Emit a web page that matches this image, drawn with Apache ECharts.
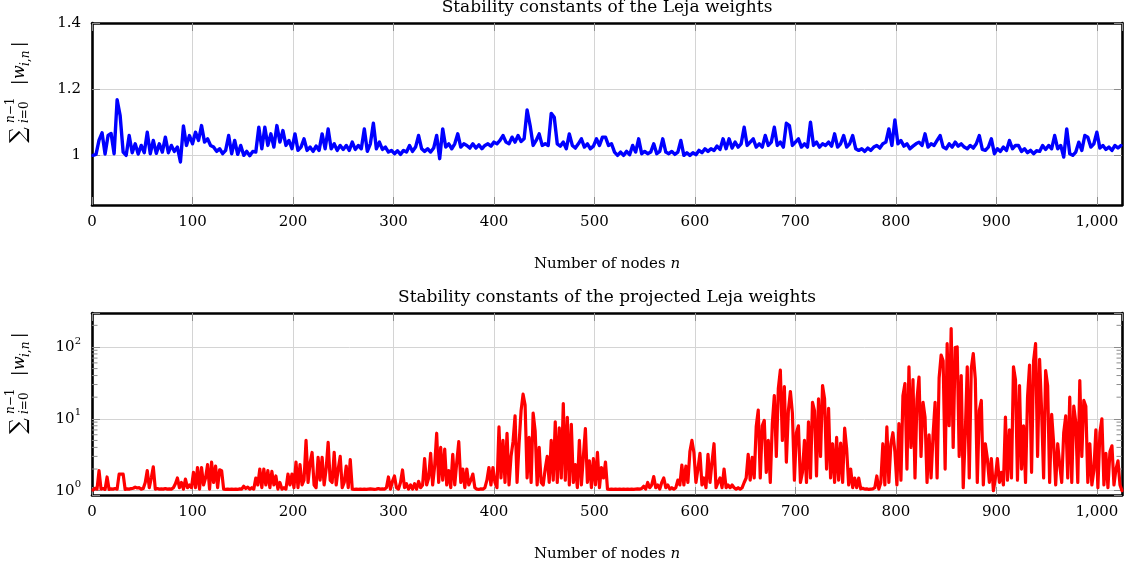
<!DOCTYPE html>
<html>
<head>
<meta charset="utf-8">
<script src="https://cdn.jsdelivr.net/npm/echarts@6/dist/echarts.min.js"></script>
<style>
  html, body { margin: 0; padding: 0; background: #fff; }
  #main { width: 1125px; height: 570px; }
</style>
</head>
<body>
<div id="main"></div>
<script>
// node spacing of the stored samples (n = 1, 1 + step, ...)
var blueStep = 3;
var redStep = 2;
var nodeMax = 1025;

// stability constants of the Leja weights, n = 1, 4, 7, ..., 1024
var lejaWeights = [
  1.0, 1.003, 1.046, 1.068, 1.004, 1.06, 1.066, 1.005, 1.168, 1.12,
  1.01, 1.0, 1.06, 1.008, 1.035, 1.004, 1.03, 1.008, 1.07, 1.005,
  1.045, 1.006, 1.035, 1.01, 1.055, 1.008, 1.03, 1.012, 1.025, 0.98,
  1.089, 1.03, 1.06, 1.035, 1.07, 1.045, 1.09, 1.04, 1.05, 1.03,
  1.025, 1.012, 1.02, 1.005, 1.015, 1.06, 1.005, 1.045, 1.003, 1.03,
  1.0, 1.012, 0.999, 1.012, 1.01, 1.085, 1.02, 1.085, 1.03, 1.065,
  1.025, 1.09, 1.04, 1.075, 1.03, 1.045, 1.02, 1.065, 1.015, 1.025,
  1.05, 1.015, 1.025, 1.012, 1.028, 1.015, 1.065, 1.02, 1.08, 1.02,
  1.035, 1.015, 1.03, 1.018, 1.03, 1.015, 1.04, 1.018, 1.03, 1.02,
  1.08, 1.012, 1.035, 1.097, 1.02, 1.04, 1.018, 1.025, 1.01, 1.015,
  1.005, 1.014, 1.003, 1.015, 1.01, 1.03, 1.012, 1.025, 1.06, 1.02,
  1.012, 1.02, 1.01, 1.022, 1.06, 0.99, 1.08, 1.025, 1.035, 1.02,
  1.035, 1.065, 1.025, 1.035, 1.03, 1.022, 1.035, 1.022, 1.032, 1.02,
  1.03, 1.035, 1.028, 1.04, 1.035, 1.045, 1.06, 1.04, 1.035, 1.055,
  1.04, 1.06, 1.042, 1.05, 1.137, 1.09, 1.03, 1.045, 1.065, 1.03,
  1.035, 1.03, 1.127, 1.115, 1.035, 1.028, 1.04, 1.02, 1.065, 1.03,
  1.022, 1.035, 1.05, 1.025, 1.035, 1.02, 1.028, 1.05, 1.03, 1.055,
  1.055, 1.03, 1.035, 1.01, 1.0, 1.01, 1.0, 1.012, 1.002, 1.03,
  1.01, 1.05, 1.005, 1.012, 1.005, 1.01, 1.035, 1.005, 1.012, 1.05,
  1.01, 1.005, 1.012, 1.003, 1.01, 1.045, 1.0, 1.008, 1.0, 1.008,
  1.002, 1.015, 1.008, 1.02, 1.012, 1.02, 1.015, 1.028, 1.018, 1.05,
  1.02, 1.05, 1.022, 1.04, 1.025, 1.035, 1.085, 1.03, 1.04, 1.05,
  1.025, 1.035, 1.025, 1.06, 1.03, 1.04, 1.085, 1.03, 1.04, 1.025,
  1.097, 1.09, 1.03, 1.04, 1.05, 1.025, 1.035, 1.025, 1.10, 1.03,
  1.04, 1.025, 1.035, 1.03, 1.04, 1.028, 1.065, 1.025, 1.035, 1.06,
  1.025, 1.035, 1.06, 1.02, 1.015, 1.02, 1.012, 1.022, 1.015, 1.025,
  1.03, 1.022, 1.035, 1.04, 1.08, 1.03, 1.107, 1.035, 1.045, 1.028,
  1.035, 1.02, 1.028, 1.035, 1.04, 1.03, 1.065, 1.025, 1.035, 1.03,
  1.045, 1.06, 1.025, 1.02, 1.035, 1.025, 1.04, 1.028, 1.035, 1.025,
  1.02, 1.03, 1.022, 1.035, 1.06, 1.018, 1.015, 1.025, 1.05, 1.005,
  1.02, 1.012, 1.025, 1.015, 1.045, 1.02, 1.03, 1.03, 1.012, 1.02,
  1.008, 1.015, 1.005, 1.014, 1.012, 1.03, 1.018, 1.03, 1.02, 1.06,
  1.02, 1.03, 0.995, 1.08, 1.005, 1.0, 1.01, 1.04, 1.015, 1.06,
  1.055, 1.025, 1.035, 1.07, 1.022, 1.03, 1.018, 1.025, 1.015, 1.03, 1.022, 1.03
];

// stability constants of the projected Leja weights, n = 1, 3, 5, ..., 1025
var projectedWeights = [
  1.02, 1.08, 1.05, 1.9, 1.05, 1.07, 1.04, 1.55, 1.04, 1.06,
  1.05, 1.07, 1.05, 1.7, 1.7, 1.7, 1.04, 1.06, 1.05, 1.07,
  1.08, 1.12, 1.09, 1.1, 1.05, 1.07, 1.3, 1.9, 1.1, 1.5,
  2.15, 1.05, 1.07, 1.05, 1.06, 1.05, 1.07, 1.05, 1.06, 1.05,
  1.1, 1.25, 1.5, 1.1, 1.3, 1.05, 1.45, 1.1, 1.2, 1.1,
  1.8, 1.1, 2.1, 1.05, 2.1, 1.2, 1.5, 2.3, 1.05, 2.5,
  1.3, 2.2, 1.1, 1.95, 1.9, 1.05, 1.04, 1.05, 1.04, 1.05,
  1.04, 1.05, 1.04, 1.06, 1.05, 1.15, 1.07, 1.12, 1.05, 1.1,
  1.05, 1.5, 1.2, 2.0, 1.1, 2.0, 1.2, 1.9, 1.1, 1.85,
  1.2, 1.6, 1.05, 1.3, 1.05, 1.1, 1.05, 1.7, 1.2, 1.7,
  1.1, 2.5, 1.1, 2.3, 1.2, 1.4, 5.0, 1.3, 2.4, 3.4,
  1.2, 1.1, 2.9, 1.4, 2.9, 1.2, 2.0, 4.7, 1.4, 1.3,
  3.4, 1.2, 2.0, 3.0, 1.1, 1.3, 2.2, 1.1, 2.7, 1.05,
  1.04, 1.05, 1.04, 1.05, 1.04, 1.05, 1.04, 1.05, 1.06, 1.05,
  1.04, 1.05, 1.07, 1.05, 1.06, 1.05, 1.1, 1.55, 1.05, 1.35,
  1.6, 1.1, 1.05, 1.3, 1.94, 1.1, 1.25, 1.05, 1.2, 1.05,
  1.25, 1.05, 1.35, 1.1, 1.2, 2.8, 1.2, 1.5, 3.3, 1.2,
  2.2, 6.3, 1.3, 4.0, 1.4, 3.8, 1.2, 1.9, 1.1, 3.2,
  1.2, 2.5, 4.8, 1.3, 2.0, 1.1, 2.0, 1.2, 1.4, 1.7,
  1.1, 1.05, 1.04, 1.06, 1.05, 1.1, 1.4, 2.1, 1.2, 2.1,
  1.3, 1.1, 7.7, 1.5, 5.0, 1.3, 6.3, 1.2, 3.0, 4.8,
  11, 1.3, 4.5, 13, 22, 15.5, 1.5, 5.5, 1.3, 12,
  6.8, 1.2, 4.0, 1.3, 1.2, 2.0, 3.0, 1.3, 5.0, 1.4,
  9.1, 1.3, 7.5, 1.5, 16.3, 1.4, 10.5, 1.2, 8.4, 1.3,
  2.3, 1.1, 5.0, 1.2, 3.0, 7.3, 1.3, 2.6, 1.1, 2.8,
  1.2, 3.4, 1.1, 2.1, 1.5, 2.5, 1.05, 1.04, 1.05, 1.04,
  1.05, 1.04, 1.05, 1.04, 1.05, 1.04, 1.05, 1.04, 1.05, 1.04,
  1.05, 1.06, 1.05, 1.07, 1.15, 1.05, 1.3, 1.1, 1.2, 1.57,
  1.1, 1.2, 1.05, 1.3, 1.5, 1.1, 1.2, 1.05, 1.1, 1.05,
  1.1, 1.4, 1.2, 2.27, 1.2, 2.2, 1.3, 3.5, 5.0, 3.4,
  1.3, 2.0, 3.3, 1.2, 1.5, 1.1, 3.2, 1.3, 2.5, 4.5,
  1.1, 1.3, 1.5, 1.1, 2.0, 1.1, 1.2, 1.1, 1.2, 1.1,
  1.05, 1.1, 1.05, 1.1, 1.3, 1.5, 3.2, 1.4, 2.9, 1.5,
  7.8, 13.2, 1.5, 8.0, 9.5, 1.8, 5.0, 1.3, 8.5, 21,
  3.0, 26.5, 47.5, 5.0, 28, 2.5, 13, 24, 12, 1.4,
  6.4, 8.0, 1.3, 1.8, 5.0, 1.3, 9.1, 1.5, 17, 13,
  1.6, 19, 3.0, 29, 19, 2.0, 14, 1.5, 4.5, 1.3,
  5.5, 1.4, 4.6, 1.3, 7.4, 3.8, 1.2, 2.0, 1.1, 1.5,
  1.1, 1.5, 1.06, 1.08, 1.05, 1.06, 1.04, 1.05, 1.06, 1.1,
  1.6, 1.05, 1.3, 4.5, 1.2, 7.7, 1.3, 4.5, 6.4, 3.5,
  1.2, 8.6, 1.4, 21, 31, 2.0, 53, 4.0, 35, 1.5,
  19, 38, 3.0, 17, 10.5, 1.3, 6.0, 1.5, 6.0, 17,
  1.5, 37, 77, 64, 2.0, 111, 8.0, 180, 4.0, 98,
  100, 3.0, 40, 1.1, 6.0, 53, 1.5, 50, 81, 36,
  1.3, 13, 18, 1.2, 4.5, 2.8, 1.3, 2.8, 1.0, 1.5,
  2.8, 1.3, 1.8, 1.2, 10.6, 1.4, 7.0, 1.5, 53, 35,
  1.4, 29, 2.0, 8.0, 1.3, 20, 56, 1.8, 64, 111,
  3.0, 67, 13, 1.5, 47, 29, 1.3, 11.5, 4.5, 1.2,
  4.5, 2.3, 1.3, 6.4, 11, 1.5, 20, 1.3, 15, 9.0,
  1.3, 34, 3.0, 18, 15, 1.3, 4.5, 1.2, 1.9, 7.0,
  1.1, 6.4, 10, 1.2, 3.3, 1.1, 3.5, 4.2, 1.2, 2.0,
  2.6, 1.2, 1.0
];

var linearTicks = [1, 1.2, 1.4];
var minorLogTicks = [2, 3, 4, 5, 6, 7, 8, 9, 20, 30, 40, 50, 60, 70, 80, 90, 200];

var serif = 'DejaVu Serif';
var gridColor = '#d4d4d4';
var tickColor = '#8c8c8c';
var frame = { show: true, onZero: false, lineStyle: { color: '#000', width: 2.6 } };

var blueData = lejaWeights.map(function (v, i) { return [1 + i * blueStep, v]; });
var redData = projectedWeights.map(function (v, i) { return [1 + i * redStep, v]; });

var myChart = echarts.init(document.getElementById('main'));

function nodeLabel(v) {
    return v % 100 === 0 ? v.toLocaleString('en-US') : '';
}

function logLabel(v) {
    var e = Math.log10(v);
    var r = Math.round(e);
    if (Math.abs(e - r) > 1e-6) return '';
    return '{b|10}{s|' + r + '}';
}

function xAxes(grid) {
    return [{
        type: 'value', gridIndex: grid, min: 0, max: nodeMax, interval: 100, position: 'bottom',
        axisLine: frame,
        axisTick: { show: true, inside: true, length: 8, lineStyle: { color: tickColor } },
        axisLabel: { margin: 10, formatter: nodeLabel, showMaxLabel: false, color: '#000', fontFamily: serif, fontSize: 15 },
        splitLine: { show: true, lineStyle: { color: gridColor, width: 1 } },
        name: 'Number of nodes {i|n}', nameLocation: 'middle', nameGap: 52,
        nameTextStyle: {
            color: '#000', fontFamily: serif, fontSize: 15,
            rich: { i: { fontStyle: 'italic', fontFamily: serif, fontSize: 15, color: '#000' } }
        }
    }, {
        type: 'value', gridIndex: grid, min: 0, max: nodeMax, interval: 100, position: 'top',
        axisLine: frame,
        axisTick: { show: true, inside: true, length: 8, lineStyle: { color: tickColor } },
        axisLabel: { show: false },
        splitLine: { show: false }
    }];
}

function sumLabel(cx, cy) {
    var t = function (x, y, text, size, rich) {
        return {
            type: 'text', x: x, y: y, silent: true,
            style: {
                text: text, fontFamily: serif, fontSize: size, fill: '#000',
                textAlign: 'left', textVerticalAlign: 'middle', rich: rich
            }
        };
    };
    var it = function (size) { return { i: { fontStyle: 'italic', fontFamily: serif, fontSize: size, fill: '#000' } }; };
    return {
        type: 'group', x: cx, y: cy, rotation: Math.PI / 2, silent: true,
        children: [
            t(-55, 0, '∑', 22),
            t(-35, -8, '{i|n}−1', 12, it(12)),
            t(-35, 6, '{i|i}=0', 12, it(12)),
            t(3, 1, '|', 16),
            t(9, 1, '{i|w}', 16, it(16)),
            t(22, 7, '{i|i},{i|n}', 12, it(12)),
            t(41, 1, '|', 16)
        ]
    };
}

option = {
    animation: false,
    backgroundColor: '#fff',
    title: [{
        text: 'Stability constants of the Leja weights',
        left: 607, top: -1, textAlign: 'center', padding: 0,
        textStyle: { fontFamily: serif, fontSize: 17, fontWeight: 'normal', color: '#000' }
    }, {
        text: 'Stability constants of the projected Leja weights',
        left: 607, top: 289, textAlign: 'center', padding: 0,
        textStyle: { fontFamily: serif, fontSize: 17, fontWeight: 'normal', color: '#000' }
    }],
    grid: [
        { left: 92, top: 23, right: 3, height: 182, outerBoundsMode: 'none' },
        { left: 92, top: 313, right: 3, height: 182, outerBoundsMode: 'none' }
    ],
    xAxis: xAxes(0).concat(xAxes(1)),
    yAxis: [{
        type: 'value', gridIndex: 0, min: 0.85, max: 1.4, position: 'left',
        axisLine: frame,
        axisTick: { show: true, inside: true, length: 8, customValues: linearTicks, lineStyle: { color: tickColor } },
        axisLabel: {
            customValues: linearTicks, margin: 11, color: '#000', fontFamily: serif, fontSize: 15,
            formatter: function (v) { return String(Number(v.toFixed(2))); }
        },
        splitLine: { show: true, lineStyle: { color: gridColor, width: 1 } }
    }, {
        type: 'value', gridIndex: 0, min: 0.85, max: 1.4, position: 'right',
        axisLine: frame,
        axisTick: { show: true, inside: true, length: 8, customValues: linearTicks, lineStyle: { color: tickColor } },
        axisLabel: { show: false },
        splitLine: { show: false }
    }, {
        type: 'log', logBase: 10, gridIndex: 1, min: 0.87, max: 297, position: 'left',
        axisLine: frame,
        axisTick: { show: true, inside: true, length: 8, lineStyle: { color: tickColor } },
        axisLabel: {
            margin: 11, formatter: logLabel,
            rich: {
                b: { fontFamily: serif, fontSize: 15, lineHeight: 22, color: '#000' },
                s: { fontFamily: serif, fontSize: 10, lineHeight: 10, verticalAlign: 'top', color: '#000' }
            }
        },
        splitLine: { show: true, lineStyle: { color: gridColor, width: 1 } }
    }, {
        type: 'log', logBase: 10, gridIndex: 1, min: 0.87, max: 297, position: 'right',
        axisLine: frame,
        axisTick: { show: true, inside: true, length: 8, lineStyle: { color: tickColor } },
        axisLabel: { show: false },
        splitLine: { show: false }
    }],
    graphic: [sumLabel(19, 88), sumLabel(19, 379)],
    series: [{
        name: 'Leja',
        type: 'line',
        xAxisIndex: 0, yAxisIndex: 0,
        data: blueData,
        symbol: 'none',
        lineStyle: { color: '#0000ff', width: 3.4, join: 'round', cap: 'round' },
        z: 3
    }, {
        name: 'projected Leja',
        type: 'line',
        xAxisIndex: 2, yAxisIndex: 2,
        data: redData,
        symbol: 'none',
        lineStyle: { color: '#ff0000', width: 3.2, join: 'round', cap: 'round' },
        z: 3
    }, {
        name: 'minor ticks',
        type: 'custom',
        xAxisIndex: 2, yAxisIndex: 2,
        silent: true, clip: false, z: 2,
        data: minorLogTicks.map(function (v) { return [0, v]; }),
        encode: { x: 0, y: 1 },
        renderItem: function (params, api) {
            var l = api.coord([0, api.value(1)]);
            var r = api.coord([nodeMax, api.value(1)]);
            var st = { stroke: tickColor, lineWidth: 1 };
            return {
                type: 'group',
                children: [
                    { type: 'line', shape: { x1: l[0], y1: l[1], x2: l[0] + 5.5, y2: l[1] }, style: st },
                    { type: 'line', shape: { x1: r[0] - 5.5, y1: r[1], x2: r[0], y2: r[1] }, style: st }
                ]
            };
        }
    }]
};
myChart.setOption(option);
</script>
</body>
</html>
